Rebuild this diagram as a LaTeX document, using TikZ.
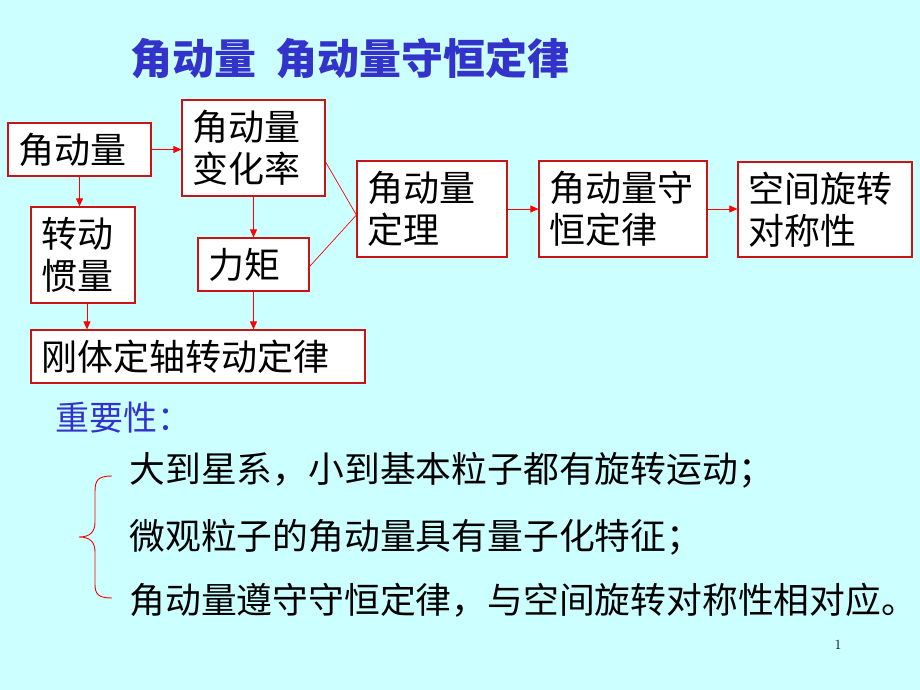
\documentclass[tikz,border=0pt]{standalone}
\usepackage{fontspec}
\newfontfamily\cjk{Noto Sans CJK SC}
\usetikzlibrary{arrows.meta}
\definecolor{slidebg}{RGB}{204,255,255}
\definecolor{boxred}{RGB}{200,20,20}
\definecolor{titleblue}{RGB}{51,51,204}
\tikzset{
    box/.style={draw=boxred, fill=white, line width=1.2pt, align=left, inner xsep=10pt,
        font=\cjk\fontsize{36}{42}\selectfont},
    link/.style={red, line width=0.9pt, -{Triangle[length=8pt,width=7pt]}},
    mergeline/.style={red, line width=0.7pt},
    textline/.style={anchor=west, font=\cjk\fontsize{35.8}{40}\selectfont}
}
\begin{document}
\begin{tikzpicture}[x=1pt, y=-1pt]
        \useasboundingbox (0,0) rectangle (920,690);
        \fill[slidebg] (0,0) rectangle (920,690);

        \node[text=titleblue, font=\cjk\bfseries\fontsize{42}{48}\selectfont] (title) at (350,58) {角动量\hspace{20pt}角动量守恒定律};

        \node[box, text width=123pt, minimum height=53pt] (amount) at (79.5,149.5) {角动量};
        \node[box, text width=123pt, minimum height=96pt] (rate) at (253.5,148) {角动量\\变化率};
        \node[box, text width=84pt, minimum height=96pt] (inertia) at (83,255) {转动\\惯量};
        \node[box, text width=91pt, minimum height=53pt] (torque) at (253.5,264.5) {力矩};
        \node[box, text width=314pt, minimum height=53pt] (rigid) at (198,356.5) {刚体定轴转动定律};
        \node[box, text width=130pt, minimum height=96pt] (theorem) at (432,209) {角动量\\定理};
        \node[box, text width=148pt, minimum height=96pt] (conserve) at (623,209) {角动量守\\恒定律};
        \node[box, text width=154pt, minimum height=95pt] (symmetry) at (825,209.5) {空间旋转\\对称性};

        \draw[link] (amount.east) -- (amount.east -| rate.west);
        \draw[link] (amount.south) -- (amount.south |- inertia.north);
        \draw[link] (rate.south) -- (rate.south |- torque.north);
        \draw[link] ([xshift=4pt]inertia.south) -- ([xshift=4pt]inertia.south |- rigid.north);
        \draw[link] (torque.south) -- (torque.south |- rigid.north);
        \draw[link] (theorem.east) -- (theorem.east -| conserve.west);
        \draw[link] (conserve.east) -- (conserve.east -| symmetry.west);

        \coordinate (meet) at ([yshift=-6pt]theorem.west);
        \draw[mergeline] ([yshift=-14pt]rate.east) -- (meet) -- ([yshift=-2pt]torque.east);

        \node[anchor=west, text=titleblue, font=\cjk\fontsize{34}{38}\selectfont] (importance) at (52,418) {重要性：};
        \node[textline] (scale) at (126,470) {大到星系，小到基本粒子都有旋转运动；};
        \node[textline] (micro) at (126,537) {微观粒子的角动量具有量子化特征；};
        \node[textline] (law) at (126,600) {角动量遵守守恒定律，与空间旋转对称性相对应。};

        \draw[red, line width=0.9pt] (112,476) .. controls (98,476) and (95,480) .. (95,492) -- (95,522)
            .. controls (95,532) and (90,537) .. (79,537) .. controls (90,537) and (95,542) .. (95,552)
            -- (95,584) .. controls (95,594) and (98,598) .. (112,598);

        \node[font=\fontsize{14}{16}\selectfont] (page) at (838,645) {1};
    \end{tikzpicture}
\end{document}
